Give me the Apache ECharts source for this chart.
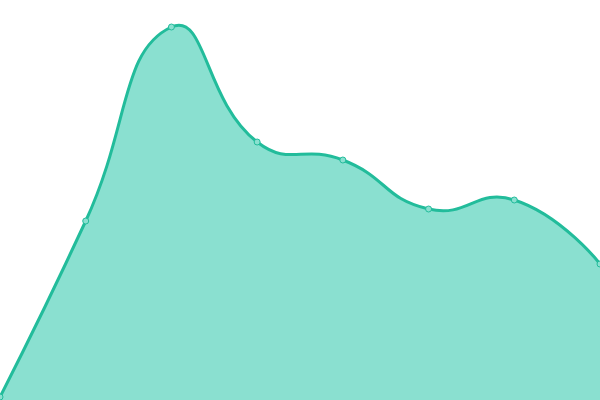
<!DOCTYPE html>
<html>
<head>
<meta charset="utf-8">
<script src="https://cdn.jsdelivr.net/npm/echarts@6/dist/echarts.min.js"></script>
<style>html,body{margin:0;padding:0;background:#fff}#c{width:600px;height:400px}</style>
</head>
<body>
<div id="c"></div>
<script>
var categories = ['A', 'B', 'C', 'D', 'E', 'F', 'G', 'H'];
var values = [3, 179, 373, 258, 240, 191, 200, 136];

var LINE_COLOR = '#22bc9b';
var AREA_COLOR = '#8ae0d0';
var SMOOTH = 0.5;

// Classic bezier smoothing (control points from neighbours), clamped to the plot rectangle
function smoothControlPoints(pts, smooth, minP, maxP) {
  var cps = [];
  for (var i = 0; i < pts.length; i++) {
    var p = pts[i];
    if (i === 0 || i === pts.length - 1) { cps.push([p[0], p[1]]); continue; }
    var prev = pts[i - 1], next = pts[i + 1];
    var vx = (next[0] - prev[0]) * smooth, vy = (next[1] - prev[1]) * smooth;
    var d0 = Math.hypot(p[0] - prev[0], p[1] - prev[1]);
    var d1 = Math.hypot(p[0] - next[0], p[1] - next[1]);
    var s = d0 + d1;
    if (s) { d0 /= s; d1 /= s; }
    var c0 = [p[0] - vx * d0, p[1] - vy * d0];
    var c1 = [p[0] + vx * d1, p[1] + vy * d1];
    [c0, c1].forEach(function (c) {
      c[0] = Math.min(Math.max(c[0], minP[0]), maxP[0]);
      c[1] = Math.min(Math.max(c[1], minP[1]), maxP[1]);
    });
    cps.push(c0, c1);
  }
  return cps;
}

function curvePath(pts, cps) {
  var d = 'M' + pts[0][0] + ' ' + pts[0][1];
  for (var i = 1; i < pts.length; i++) {
    var a = cps[(i - 1) * 2], b = cps[(i - 1) * 2 + 1];
    d += ' C' + a[0] + ' ' + a[1] + ' ' + b[0] + ' ' + b[1] + ' ' + pts[i][0] + ' ' + pts[i][1];
  }
  return d;
}

var chart = echarts.init(document.getElementById('c'));
chart.setOption({
  animation: false,
  grid: { left: 0, right: 0, top: 0, bottom: 0 },
  xAxis: { type: 'category', data: categories, boundaryGap: false, show: false },
  yAxis: { type: 'value', min: 0, max: 400, show: false },
  series: [{
    type: 'custom',
    z: 1,
    clip: false,
    data: values.map(function (v, i) { return [i, v]; }),
    encode: { x: 0, y: 1 },
    renderItem: function (params, api) {
      if (params.dataIndex !== 0) return null;
      var pts = values.map(function (v, i) { return api.coord([i, v]); });
      var c = params.coordSys;
      var minP = [c.x, c.y], maxP = [c.x + c.width, c.y + c.height];
      var cps = smoothControlPoints(pts, SMOOTH, minP, maxP);
      var line = curvePath(pts, cps);
      var base = api.coord([0, 0])[1];
      var area = line + ' L' + pts[pts.length - 1][0] + ' ' + base + ' L' + pts[0][0] + ' ' + base + ' Z';
      return {
        type: 'group',
        children: [
          { type: 'path', shape: { pathData: area }, style: { fill: AREA_COLOR } },
          { type: 'path', shape: { pathData: line }, style: { fill: 'none', stroke: LINE_COLOR, lineWidth: 3 } }
        ]
      };
    }
  }, {
    type: 'line',
    z: 3,
    data: values,
    symbol: 'circle',
    symbolSize: 6,
    itemStyle: { color: AREA_COLOR, borderColor: LINE_COLOR, borderWidth: 1 },
    lineStyle: { width: 0, opacity: 0 }
  }]
});
</script>
</body>
</html>
